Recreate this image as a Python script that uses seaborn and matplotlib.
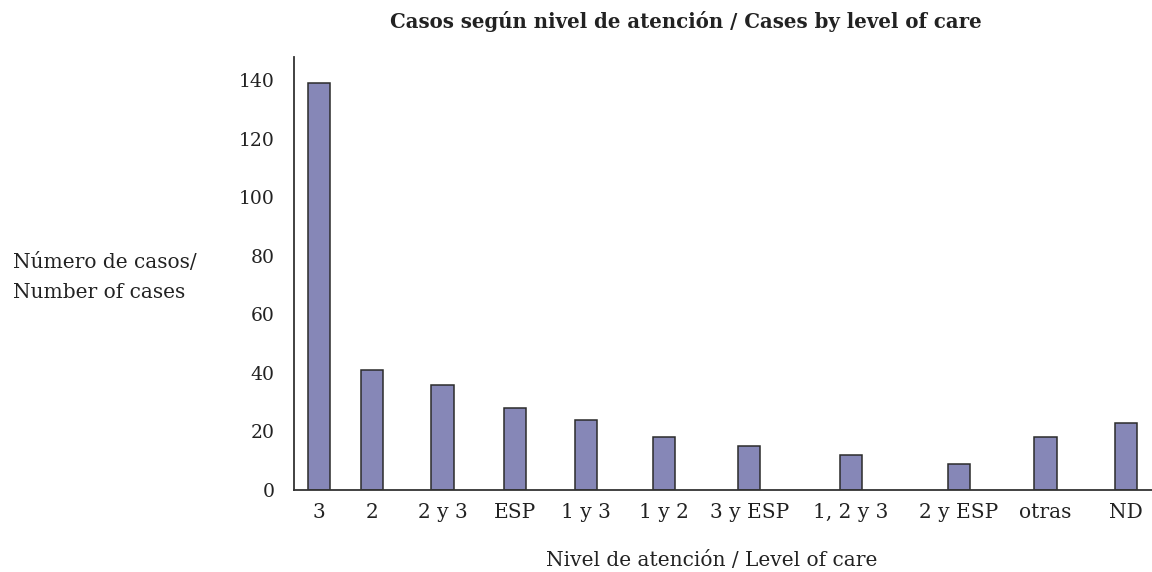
import pandas as pd
import matplotlib
matplotlib.use('Agg')
import matplotlib.pyplot as plt
import seaborn as sns

# data
levels = ['3', '2', '2 y 3', 'ESP', '1 y 3', '1 y 2', '3 y ESP', '1, 2 y 3', '2 y ESP', 'otras', 'ND']
cases = [139, 41, 36, 28, 24, 18, 15, 12, 9, 18, 23]
# the original spaces its categories unevenly; slot = place on the x axis
slot = [0.0, 0.66, 1.53, 2.43, 3.31, 4.27, 5.33, 6.59, 7.93, 9.0, 10.0]

df = pd.DataFrame({'slot': slot, 'cases': cases, 'level': levels})

sns.set_style('white')
plt.rcParams['font.family'] = ['DejaVu Serif']
txt = '#222222'

fig = plt.figure(figsize=(11.52, 5.72), dpi=100)
ax = fig.add_axes([294/1152, 1-490/572, (1152-294)/1152, (490-57)/572])

sns.barplot(data=df, x='slot', y='cases', native_scale=True, width=0.415,
            color='#8687b7', saturation=1, edgecolor='#2b2b2b', linewidth=1.1, ax=ax)

ax.set_xlim(-0.31, 10.32)
ax.set_ylim(0, 148)
ax.set_yticks(range(0, 141, 20))
ax.set_xticks(slot)
ax.set_xticklabels(levels)
ax.tick_params(axis='both', length=0, labelcolor=txt)
ax.tick_params(axis='y', pad=14, labelsize=13.5)
ax.tick_params(axis='x', pad=9, labelsize=14.5)
ax.set_xlabel('')
ax.set_ylabel('')
for side in ['top', 'right']:
    ax.spines[side].set_visible(False)
for side in ['left', 'bottom']:
    ax.spines[side].set_color('#333333')
    ax.spines[side].set_linewidth(1.3)

fig.text(686/1152, 1-21/572, 'Casos según nivel de atención / Cases by level of care',
         ha='center', va='center', fontsize=14.2, fontweight='bold', color=txt)
fig.text(712/1152, 1-560/572, 'Nivel de atención / Level of care',
         ha='center', va='center', fontsize=14.5, color=txt)
fig.text(13/1152, 1-262/572, 'Número de casos/', ha='left', va='center', fontsize=14.5, color=txt)
fig.text(13/1152, 1-292/572, 'Number of cases', ha='left', va='center', fontsize=14.5, color=txt)

fig.savefig('out.png', dpi=100)
